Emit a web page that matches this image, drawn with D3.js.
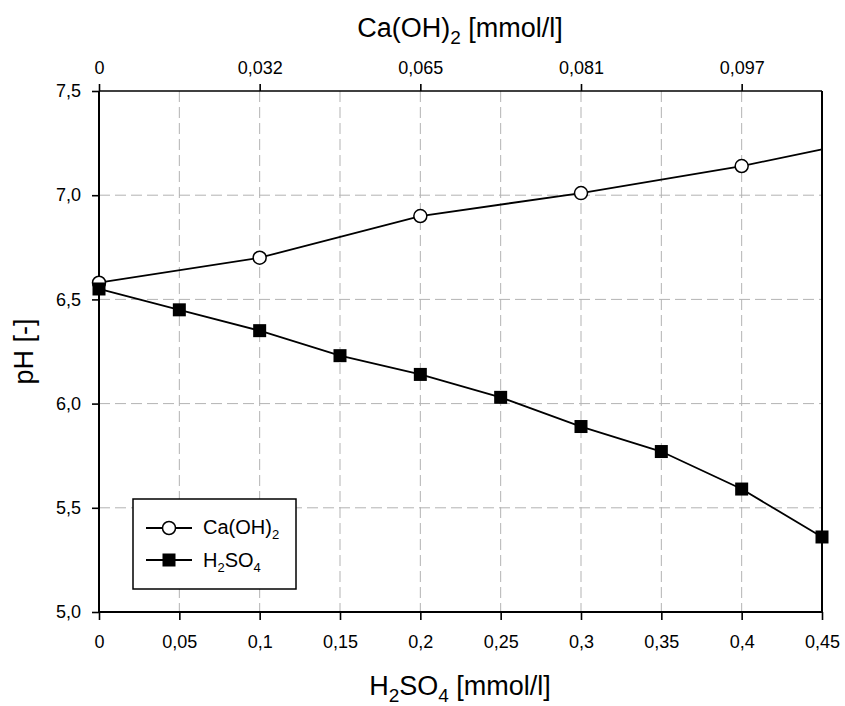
<!DOCTYPE html>
<html>
<head>
<meta charset="utf-8">
<style>
  body { margin: 0; background: #fff; }
  svg text { font-family: "Liberation Sans", Arial, sans-serif; fill: #000; }
</style>
</head>
<body>
<script src="https://cdn.jsdelivr.net/npm/d3@7"></script>
<script>
// *** DATA ***
var h2so4X = [0, 0.05, 0.1, 0.15, 0.2, 0.25, 0.3, 0.35, 0.4, 0.45];
var h2so4PH = [6.55, 6.45, 6.35, 6.23, 6.14, 6.03, 5.89, 5.77, 5.59, 5.36];

// Ca(OH)2 points sit on the H2SO4 scale positions; top axis relabels them
var caX = [0, 0.1, 0.2, 0.3, 0.4, 0.45];
var caPH = [6.58, 6.70, 6.90, 7.01, 7.14, 7.22];
var caMarked = 5; // last point is only the line end, no marker

var bottomTicks = [0, 0.05, 0.1, 0.15, 0.2, 0.25, 0.3, 0.35, 0.4, 0.45];
var topTickPos = [0, 0.1, 0.2, 0.3, 0.4];
var topTickLabels = ["0", "0,032", "0,065", "0,081", "0,097"];
var yTicks = [5.0, 5.5, 6.0, 6.5, 7.0, 7.5];

// *** LAYOUT ***
var W = 845, H = 706;
var pLeft = 99, pRight = 822, pTop = 91, pBottom = 612;
var tickFont = "18px";

var svg = d3.select("body").append("svg").attr("width", W).attr("height", H);

var x = d3.scaleLinear().domain([0, 0.45]).range([pLeft, pRight]);
var y = d3.scaleLinear().domain([5.0, 7.5]).range([pBottom, pTop]);

function comma(v) { return String(v).replace(".", ","); }

// grid
var grid = svg.append("g").attr("stroke", "#b3b3b3").attr("stroke-width", 1)
  .attr("stroke-dasharray", "11,5");
grid.selectAll("line.v").data(bottomTicks.slice(1)).enter().append("line")
  .attr("x1", function(d){ return x(d); }).attr("x2", function(d){ return x(d); })
  .attr("y1", pTop).attr("y2", pBottom);
grid.selectAll("line.h").data(yTicks.slice(0, -1)).enter().append("line")
  .attr("y1", function(d){ return y(d); }).attr("y2", function(d){ return y(d); })
  .attr("x1", pLeft).attr("x2", pRight);

// axes
var xBottom = d3.axisBottom(x).tickValues(bottomTicks).tickSize(8).tickPadding(15)
  .tickFormat(function(d){ return d === 0 ? "0" : comma(d); });
var gB = svg.append("g").attr("transform", "translate(0," + pBottom + ")").call(xBottom);

var xTop = d3.axisTop(x).tickValues(topTickPos).tickSize(7).tickPadding(10)
  .tickFormat(function(d, i){ return topTickLabels[i]; });
var gT = svg.append("g").attr("transform", "translate(0," + pTop + ")").call(xTop);

var yLeft = d3.axisLeft(y).tickValues(yTicks).tickSize(7).tickPadding(11)
  .tickFormat(function(d){ return d3.format(".1f")(d).replace(".", ","); });
var gL = svg.append("g").attr("transform", "translate(" + pLeft + ",0)").call(yLeft);

[gB, gT, gL].forEach(function(g){
  g.attr("font-size", null).attr("font-family", null);
  g.select(".domain").remove();
  g.selectAll("line").attr("stroke", "#000").attr("stroke-width", 1.6);
  g.selectAll("text").style("font-size", tickFont).attr("fill", "#000");
});

// frame
svg.append("line").attr("x1", pLeft).attr("x2", pRight).attr("y1", pTop).attr("y2", pTop)
  .attr("stroke", "#000").attr("stroke-width", 1.6);
svg.append("line").attr("x1", pLeft - 1).attr("x2", pRight + 1).attr("y1", pBottom).attr("y2", pBottom)
  .attr("stroke", "#000").attr("stroke-width", 2);
svg.append("line").attr("x1", pLeft).attr("x2", pLeft).attr("y1", pTop).attr("y2", pBottom)
  .attr("stroke", "#000").attr("stroke-width", 2);
svg.append("line").attr("x1", pRight).attr("x2", pRight).attr("y1", pTop).attr("y2", pBottom)
  .attr("stroke", "#000").attr("stroke-width", 2);

// lines
var line = d3.line().x(function(d){ return x(d[0]); }).y(function(d){ return y(d[1]); });
var caPts = d3.zip(caX, caPH);
var hPts = d3.zip(h2so4X, h2so4PH);

svg.append("path").datum(caPts).attr("d", line).attr("fill", "none")
  .attr("stroke", "#000").attr("stroke-width", 1.8);
svg.append("path").datum(hPts).attr("d", line).attr("fill", "none")
  .attr("stroke", "#000").attr("stroke-width", 1.8);

svg.selectAll("circle.ca").data(caPts.slice(0, caMarked)).enter().append("circle")
  .attr("cx", function(d){ return x(d[0]); }).attr("cy", function(d){ return y(d[1]); })
  .attr("r", 6.5).attr("fill", "#fff").attr("stroke", "#000").attr("stroke-width", 1.5);

svg.selectAll("rect.h").data(hPts).enter().append("rect")
  .attr("x", function(d){ return x(d[0]) - 6.5; }).attr("y", function(d){ return y(d[1]) - 6.5; })
  .attr("width", 13).attr("height", 13).attr("fill", "#000");

// legend
var lg = svg.append("g");
lg.append("rect").attr("x", 133).attr("y", 499).attr("width", 163).attr("height", 90)
  .attr("fill", "#fff").attr("stroke", "#000").attr("stroke-width", 1.5);
lg.append("line").attr("x1", 146).attr("x2", 192).attr("y1", 528).attr("y2", 528)
  .attr("stroke", "#000").attr("stroke-width", 1.8);
lg.append("circle").attr("cx", 169).attr("cy", 528).attr("r", 6.5)
  .attr("fill", "#fff").attr("stroke", "#000").attr("stroke-width", 1.5);
lg.append("line").attr("x1", 146).attr("x2", 192).attr("y1", 560).attr("y2", 560)
  .attr("stroke", "#000").attr("stroke-width", 1.8);
lg.append("rect").attr("x", 162.5).attr("y", 553.5).attr("width", 13).attr("height", 13).attr("fill", "#000");

var t1 = lg.append("text").attr("x", 203).attr("y", 534).style("font-size", "20px");
t1.append("tspan").text("Ca(OH)");
t1.append("tspan").attr("dy", 5).style("font-size", "13px").text("2");

var t2 = lg.append("text").attr("x", 203).attr("y", 567).style("font-size", "20px");
t2.append("tspan").text("H");
t2.append("tspan").attr("dy", 5).style("font-size", "13px").text("2");
t2.append("tspan").attr("dy", -5).text("SO");
t2.append("tspan").attr("dy", 5).style("font-size", "13px").text("4");

// axis titles
var tb = svg.append("text").attr("x", 460).attr("y", 695).attr("text-anchor", "middle")
  .style("font-size", "27px");
tb.append("tspan").text("H");
tb.append("tspan").attr("dy", 7).style("font-size", "19px").text("2");
tb.append("tspan").attr("dy", -7).text("SO");
tb.append("tspan").attr("dy", 7).style("font-size", "19px").text("4");
tb.append("tspan").attr("dy", -7).text(" [mmol/l]");

var tt = svg.append("text").attr("x", 460).attr("y", 37).attr("text-anchor", "middle")
  .style("font-size", "27px");
tt.append("tspan").text("Ca(OH)");
tt.append("tspan").attr("dy", 7).style("font-size", "19px").text("2");
tt.append("tspan").attr("dy", -7).text(" [mmol/l]");

svg.append("text").attr("transform", "translate(33," + ((pTop + pBottom) / 2) + ") rotate(-90)")
  .attr("text-anchor", "middle").style("font-size", "27px").text("pH [-]");
</script>
</body>
</html>
